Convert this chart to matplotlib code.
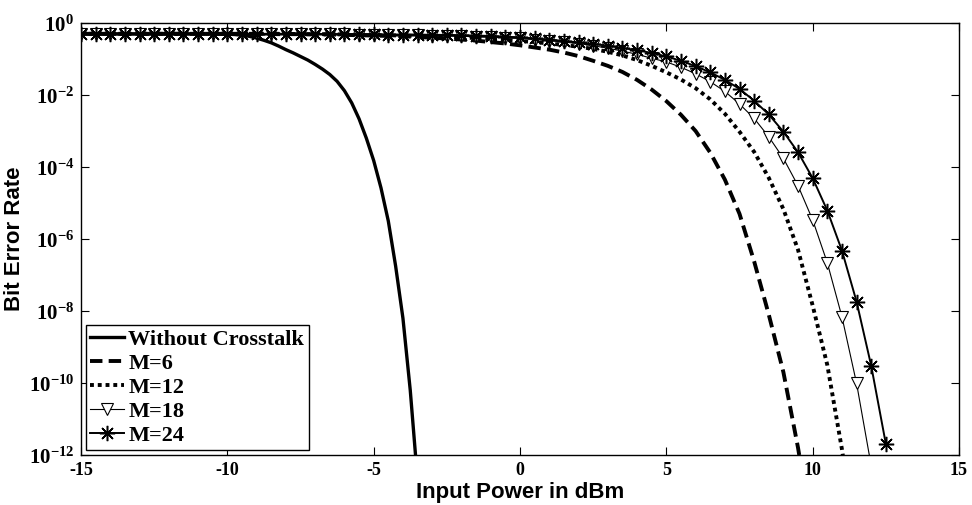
import numpy as np
import matplotlib
matplotlib.use('Agg')
import matplotlib.pyplot as plt
from matplotlib.ticker import FixedLocator, FuncFormatter, NullLocator

plt.rcParams['mathtext.fontset'] = 'custom'
plt.rcParams['mathtext.rm'] = 'Liberation Serif:bold'
plt.rcParams['mathtext.bf'] = 'Liberation Serif:bold'
plt.rcParams['mathtext.it'] = 'Liberation Serif:bold'

# --- data (log10 of BER) ---
power = np.arange(-15, 12.51, 0.5)   # 0.5 dB grid used by the M curves

wo_power = [-15, -14, -13, -12, -11, -10, -9.75, -9.5, -9.25, -9, -8.75, -8.5,
            -8.25, -8, -7.75, -7.5, -7.25, -7, -6.75, -6.5, -6.25, -6, -5.75,
            -5.5, -5.25, -5, -4.75, -4.5, -4.25, -4, -3.75, -3.5]
wo_log = [-0.30, -0.30, -0.30, -0.30, -0.30, -0.31, -0.32, -0.34, -0.37, -0.42,
          -0.48, -0.55, -0.64, -0.74, -0.83, -0.93, -1.03, -1.15, -1.28, -1.43,
          -1.62, -1.88, -2.22, -2.66, -3.2, -3.82, -4.58, -5.5, -6.75, -8.2,
          -10.2, -12.7]

nan = np.nan
m6_log = [-0.30] * 13 + [
    -0.31, -0.31, -0.31, -0.32, -0.32, -0.33, -0.34, -0.35,
    -0.36, -0.37, -0.39, -0.41, -0.43, -0.46, -0.49, -0.53, -0.57, -0.62,
    -0.68, -0.74, -0.82, -0.92, -1.05, -1.19, -1.36, -1.58, -1.85, -2.17,
    -2.55, -3.0, -3.6, -4.35, -5.3, -6.62, -8.1, -9.7, -11.8, -14.3,
    nan, nan, nan, nan, nan]
m12_log = [-0.30] * 15 + [
    -0.31, -0.31, -0.31, -0.32, -0.32, -0.33,
    -0.34, -0.35, -0.36, -0.37, -0.38, -0.40, -0.42, -0.44, -0.47, -0.50,
    -0.53, -0.57, -0.61, -0.66, -0.72, -0.80, -0.90, -1.03, -1.19, -1.37,
    -1.57, -1.81, -2.12, -2.52, -3.02, -3.58, -4.30, -5.17, -6.30, -7.85,
    -9.5, -11.84, -14.6, nan, nan]
m18_log = [-0.30] * 15 + [
    -0.30, -0.31, -0.31, -0.31, -0.32, -0.32,
    -0.33, -0.33, -0.34, -0.35, -0.36, -0.37, -0.38, -0.39, -0.41, -0.43,
    -0.46, -0.49, -0.53, -0.57, -0.63, -0.70, -0.78, -0.87, -0.98, -1.08,
    -1.23, -1.41, -1.63, -1.90, -2.25, -2.65, -3.16, -3.76, -4.52, -5.47,
    -6.66, -8.16, -10.01, -12.3, nan]
m24_log = [-0.30] * 15 + [
    -0.30, -0.30, -0.31, -0.31, -0.31, -0.31,
    -0.32, -0.32, -0.32, -0.33, -0.33, -0.34, -0.35, -0.36, -0.38, -0.40,
    -0.43, -0.46, -0.50, -0.54, -0.58, -0.63, -0.69, -0.76, -0.83, -0.93,
    -1.05, -1.20, -1.37, -1.58, -1.83, -2.16, -2.54, -3.02, -3.59, -4.31,
    -5.21, -6.32, -7.74, -9.52, -11.69]

labels = ['Without Crosstalk', 'M=6', 'M=12', 'M=18', 'M=24']

fig = plt.figure(figsize=(9.72, 5.05), dpi=100)
ax = fig.add_axes([81 / 972, 1 - 455 / 505, 878 / 972, 432 / 505])

ax.semilogy(wo_power, 10 ** np.array(wo_log), color='k', lw=2.4, label=labels[0])
l6, = ax.semilogy(power, 10 ** np.array(m6_log), color='k', lw=2.8, label=labels[1])
l6.set_dashes([3.2, 1.6])
l12, = ax.semilogy(power, 10 ** np.array(m12_log), color='k', lw=2.8, label=labels[2])
l12.set_dashes([1.0, 1.0])
ax.semilogy(power, 10 ** np.array(m18_log), color='k', lw=0.8, marker='v',
            ms=8, mfc='white', mec='k', mew=0.8, label=labels[3])
ax.semilogy(power, 10 ** np.array(m24_log), color='k', lw=1.4, marker=(8, 2, 0),
            ms=11, mec='k', mew=1.1, label=labels[4])

ax.set_xlim(-15, 15)
ax.set_ylim(1e-12, 1)
ax.xaxis.set_major_locator(FixedLocator([-15, -10, -5, 0, 5, 10, 15]))
ax.yaxis.set_major_locator(FixedLocator([10.0 ** k for k in range(-12, 1, 2)]))
ax.yaxis.set_minor_locator(NullLocator())
ax.yaxis.set_major_formatter(FuncFormatter(lambda v, p: r'$10^{%d}$' % round(np.log10(v))))
ax.xaxis.set_major_formatter(FuncFormatter(lambda v, p: '%d' % v))

ax.tick_params(direction='in', length=6, width=0.8, top=True, right=True)
ax.tick_params(axis='x', pad=5, labelsize=13)
ax.tick_params(axis='y', pad=5, labelsize=15)
for lab in ax.get_xticklabels():
    lab.set_fontfamily('Liberation Serif')
    lab.set_fontweight('bold')
for sp in ax.spines.values():
    sp.set_linewidth(1.0)

ax.set_xlabel('Input Power in dBm', fontsize=16, fontweight='bold', family='Liberation Sans')
ax.set_ylabel('Bit Error Rate', fontsize=16, fontweight='bold', family='Liberation Sans')
ax.xaxis.set_label_coords(0.5, -0.062)
ax.yaxis.set_label_coords(-0.064, 0.5)

leg = ax.legend(loc='lower left', bbox_to_anchor=(0.0057, 0.0116), borderaxespad=0,
                prop={'family': 'Liberation Serif', 'weight': 'bold', 'size': 16},
                fancybox=False, framealpha=1, edgecolor='k', handlelength=1.5,
                handletextpad=0.2, borderpad=0.2, labelspacing=0.15, numpoints=1)
leg.get_frame().set_linewidth(1.0)

fig.savefig('out.png', dpi=100)
